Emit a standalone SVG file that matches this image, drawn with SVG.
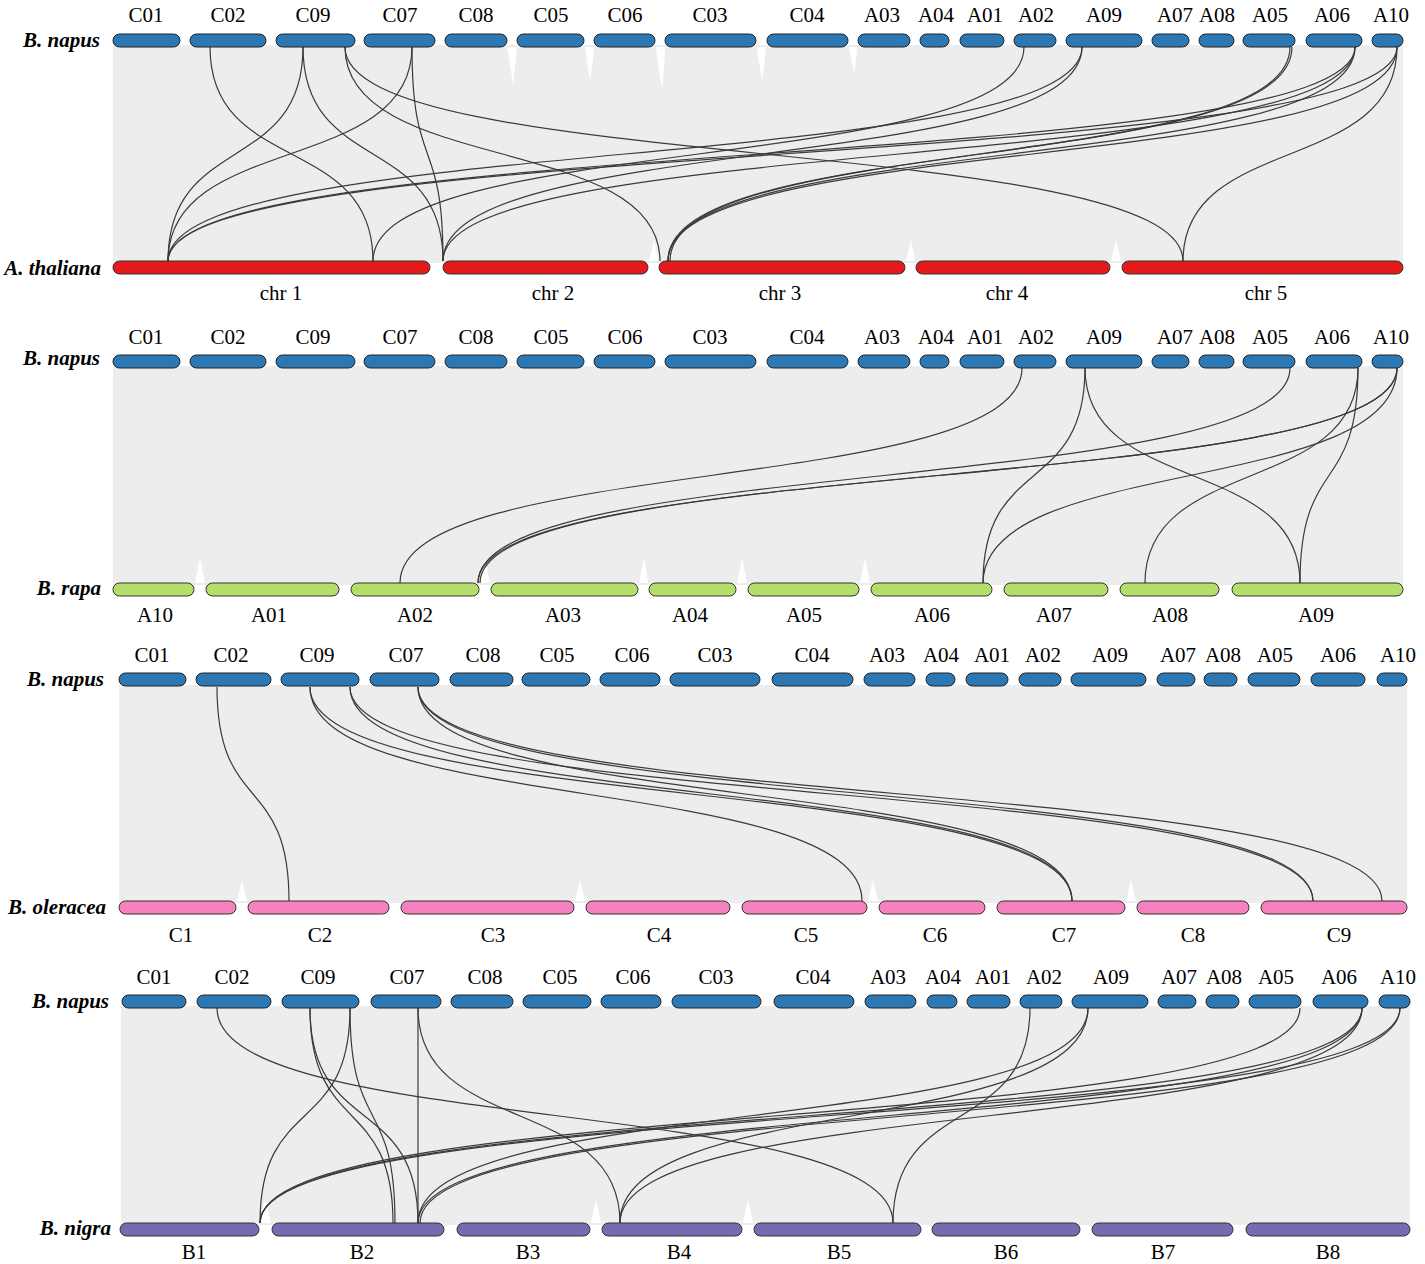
<svg xmlns="http://www.w3.org/2000/svg" width="1425" height="1264" viewBox="0 0 1425 1264">
<style>
.lab{font-family:"Liberation Serif","Times New Roman",serif;font-size:21px;text-anchor:middle;fill:#000}
.sp{font-family:"Liberation Serif","Times New Roman",serif;font-size:21px;font-weight:bold;font-style:italic;text-anchor:end;fill:#000}
.nap{fill:#2c78b4;stroke:#222;stroke-width:1}
.ath{fill:#e31a1c;stroke:#333;stroke-width:1}
.rap{fill:#b3de69;stroke:#333;stroke-width:1}
.ole{fill:#f781bf;stroke:#333;stroke-width:1}
.nig{fill:#756bb1;stroke:#333;stroke-width:1}
.bg{fill:#ededed}
.notch{fill:#ffffff}
.lnk{fill:none;stroke:#3a3a3a;stroke-width:1.2}
</style>
<rect width="1425" height="1264" fill="#fff"/>
<g id="background">
<rect class="bg" x="113" y="45" width="1290" height="218"/>
<rect class="bg" x="113" y="366" width="1290" height="219"/>
<rect class="bg" x="119" y="685" width="1288" height="218"/>
<rect class="bg" x="121" y="1006" width="1289" height="219"/>
<g class="notch">
<path d="M507 47 Q511 70 513 85 Q515 70 517 47Z"/><path d="M585 47 Q588 70 590 80 Q592 70 594 47Z"/><path d="M656 47 Q659 75 662 88 Q664 75 665 47Z"/><path d="M757 47 Q760 70 762 80 Q764 70 766 47Z"/><path d="M849 47 Q852 65 854 72 Q856 65 857 47Z"/>
<path d="M649 261 Q652 248 654 240 Q656 248 658 261Z"/><path d="M906 261 Q909 248 911 240 Q913 248 915 261Z"/><path d="M1111 261 Q1114 248 1116 240 Q1118 248 1121 261Z"/>
<path d="M195 583 Q198 568 200 558 Q202 568 205 583Z"/><path d="M480 583 Q483 568 485 558 Q487 568 490 583Z"/><path d="M639 583 Q642 568 644 558 Q646 568 648 583Z"/><path d="M737 583 Q740 568 742 558 Q744 568 747 583Z"/><path d="M860 583 Q863 568 865 558 Q867 568 870 583Z"/>
<path d="M237 901 Q240 888 242 880 Q244 888 247 901Z"/><path d="M575 901 Q578 888 580 880 Q582 888 585 901Z"/><path d="M868 901 Q871 888 873 880 Q875 888 878 901Z"/><path d="M1126 901 Q1129 888 1131 880 Q1133 888 1136 901Z"/>
<path d="M260 1223 Q263 1208 265 1200 Q267 1208 271 1223Z"/><path d="M591 1223 Q594 1208 596 1200 Q598 1208 601 1223Z"/><path d="M743 1223 Q746 1208 748 1200 Q750 1208 753 1223Z"/>
</g>
</g>
<g id="connectors">
<g id="links-p1">
<path class="lnk" d="M210 47 C210 175 373 133 373 261"/>
<path class="lnk" d="M303 47 C303 175 168 133 168 261"/>
<path class="lnk" d="M303 47 C303 175 443 133 443 261"/>
<path class="lnk" d="M345 47 C345 175 660 133 660 261"/>
<path class="lnk" d="M345 47 C345 175 1183 133 1183 261"/>
<path class="lnk" d="M412 47 C412 175 168 133 168 261"/>
<path class="lnk" d="M412 47 C412 175 443 133 443 261"/>
<path class="lnk" d="M1024 47 C1024 175 373 133 373 261"/>
<path class="lnk" d="M1082 47 C1082 175 168 133 168 261"/>
<path class="lnk" d="M1082 47 C1082 175 443 133 443 261"/>
<path class="lnk" d="M1290 47 C1290 175 668 133 668 261"/>
<path class="lnk" d="M1292 47 C1292 175 670 133 670 261"/>
<path class="lnk" d="M1355 47 C1355 175 168 133 168 261"/>
<path class="lnk" d="M1355 47 C1355 175 443 133 443 261"/>
<path class="lnk" d="M1355 47 C1355 175 668 133 668 261"/>
<path class="lnk" d="M1397 47 C1397 175 168 133 168 261"/>
<path class="lnk" d="M1397 47 C1397 175 668 133 668 261"/>
<path class="lnk" d="M1397 47 C1397 175 1183 133 1183 261"/>
</g>
<g id="links-p2">
<path class="lnk" d="M1022 368 C1022 496 400 455 400 583"/>
<path class="lnk" d="M1290 368 C1290 496 478 455 478 583"/>
<path class="lnk" d="M1397 368 C1397 496 478 455 478 583"/>
<path class="lnk" d="M1397 368 C1397 496 480 455 480 583"/>
<path class="lnk" d="M1085 368 C1085 496 983 455 983 583"/>
<path class="lnk" d="M1085 368 C1085 496 1300 455 1300 583"/>
<path class="lnk" d="M1397 368 C1397 496 983 455 983 583"/>
<path class="lnk" d="M1358 368 C1358 496 1145 455 1145 583"/>
<path class="lnk" d="M1358 368 C1358 496 1300 455 1300 583"/>
</g>
<g id="links-p3">
<path class="lnk" d="M217 687 C217 815 289 773 289 901"/>
<path class="lnk" d="M310 687 C310 815 862 773 862 901"/>
<path class="lnk" d="M310 687 C310 815 1072 773 1072 901"/>
<path class="lnk" d="M350 687 C350 815 1072 773 1072 901"/>
<path class="lnk" d="M350 687 C350 815 1313 773 1313 901"/>
<path class="lnk" d="M418 687 C418 815 1072 773 1072 901"/>
<path class="lnk" d="M418 687 C418 815 1313 773 1313 901"/>
<path class="lnk" d="M418 687 C418 815 1382 773 1382 901"/>
</g>
<g id="links-p4">
<path class="lnk" d="M217 1008 C217 1137 893 1094 893 1223"/>
<path class="lnk" d="M310 1008 C310 1137 393 1094 393 1223"/>
<path class="lnk" d="M310 1008 C310 1137 418 1094 418 1223"/>
<path class="lnk" d="M350 1008 C350 1137 260 1094 260 1223"/>
<path class="lnk" d="M350 1008 C350 1137 395 1094 395 1223"/>
<path class="lnk" d="M418 1008 C418 1137 418 1094 418 1223"/>
<path class="lnk" d="M418 1008 C418 1137 620 1094 620 1223"/>
<path class="lnk" d="M1030 1008 C1030 1137 893 1094 893 1223"/>
<path class="lnk" d="M1088 1008 C1088 1137 418 1094 418 1223"/>
<path class="lnk" d="M1088 1008 C1088 1137 620 1094 620 1223"/>
<path class="lnk" d="M1300 1008 C1300 1137 260 1094 260 1223"/>
<path class="lnk" d="M1362 1008 C1362 1137 260 1094 260 1223"/>
<path class="lnk" d="M1362 1008 C1362 1137 620 1094 620 1223"/>
<path class="lnk" d="M1362 1008 C1362 1137 418 1094 418 1223"/>
<path class="lnk" d="M1400 1008 C1400 1137 260 1094 260 1223"/>
<path class="lnk" d="M1400 1008 C1400 1137 420 1094 420 1223"/>
</g>
</g>
<g id="species-labels">
<text class="sp" x="100" y="47">B. napus</text>
<text class="sp" x="101" y="275">A. thaliana</text>
<text class="sp" x="100" y="365">B. napus</text>
<text class="sp" x="101" y="595">B. rapa</text>
<text class="sp" x="104" y="686">B. napus</text>
<text class="sp" x="106" y="914">B. oleracea</text>
<text class="sp" x="109" y="1008">B. napus</text>
<text class="sp" x="111" y="1235">B. nigra</text>
</g>
<g id="napus-1">
<rect class="nap" x="113" y="34" width="67" height="13" rx="6.5"/><text class="lab" x="146" y="22">C01</text>
<rect class="nap" x="190" y="34" width="76" height="13" rx="6.5"/><text class="lab" x="228" y="22">C02</text>
<rect class="nap" x="276" y="34" width="79" height="13" rx="6.5"/><text class="lab" x="313" y="22">C09</text>
<rect class="nap" x="364" y="34" width="71" height="13" rx="6.5"/><text class="lab" x="400" y="22">C07</text>
<rect class="nap" x="445" y="34" width="62" height="13" rx="6.5"/><text class="lab" x="476" y="22">C08</text>
<rect class="nap" x="517" y="34" width="67" height="13" rx="6.5"/><text class="lab" x="551" y="22">C05</text>
<rect class="nap" x="594" y="34" width="61" height="13" rx="6.5"/><text class="lab" x="625" y="22">C06</text>
<rect class="nap" x="665" y="34" width="91" height="13" rx="6.5"/><text class="lab" x="710" y="22">C03</text>
<rect class="nap" x="767" y="34" width="81" height="13" rx="6.5"/><text class="lab" x="807" y="22">C04</text>
<rect class="nap" x="858" y="34" width="52" height="13" rx="6.5"/><text class="lab" x="882" y="22">A03</text>
<rect class="nap" x="920" y="34" width="29" height="13" rx="6.5"/><text class="lab" x="936" y="22">A04</text>
<rect class="nap" x="960" y="34" width="44" height="13" rx="6.5"/><text class="lab" x="985" y="22">A01</text>
<rect class="nap" x="1014" y="34" width="42" height="13" rx="6.5"/><text class="lab" x="1036" y="22">A02</text>
<rect class="nap" x="1066" y="34" width="76" height="13" rx="6.5"/><text class="lab" x="1104" y="22">A09</text>
<rect class="nap" x="1152" y="34" width="37" height="13" rx="6.5"/><text class="lab" x="1175" y="22">A07</text>
<rect class="nap" x="1199" y="34" width="35" height="13" rx="6.5"/><text class="lab" x="1217" y="22">A08</text>
<rect class="nap" x="1243" y="34" width="52" height="13" rx="6.5"/><text class="lab" x="1270" y="22">A05</text>
<rect class="nap" x="1306" y="34" width="56" height="13" rx="6.5"/><text class="lab" x="1332" y="22">A06</text>
<rect class="nap" x="1372" y="34" width="31" height="13" rx="6.5"/><text class="lab" x="1391" y="22">A10</text>
</g>
<g id="athaliana">
<rect class="ath" x="113" y="261" width="317" height="13" rx="6.5"/><text class="lab" x="281" y="300">chr 1</text>
<rect class="ath" x="443" y="261" width="205" height="13" rx="6.5"/><text class="lab" x="553" y="300">chr 2</text>
<rect class="ath" x="659" y="261" width="246" height="13" rx="6.5"/><text class="lab" x="780" y="300">chr 3</text>
<rect class="ath" x="916" y="261" width="194" height="13" rx="6.5"/><text class="lab" x="1007" y="300">chr 4</text>
<rect class="ath" x="1122" y="261" width="281" height="13" rx="6.5"/><text class="lab" x="1266" y="300">chr 5</text>
</g>
<g id="napus-2">
<rect class="nap" x="113" y="355" width="67" height="13" rx="6.5"/><text class="lab" x="146" y="344">C01</text>
<rect class="nap" x="190" y="355" width="76" height="13" rx="6.5"/><text class="lab" x="228" y="344">C02</text>
<rect class="nap" x="276" y="355" width="79" height="13" rx="6.5"/><text class="lab" x="313" y="344">C09</text>
<rect class="nap" x="364" y="355" width="71" height="13" rx="6.5"/><text class="lab" x="400" y="344">C07</text>
<rect class="nap" x="445" y="355" width="62" height="13" rx="6.5"/><text class="lab" x="476" y="344">C08</text>
<rect class="nap" x="517" y="355" width="67" height="13" rx="6.5"/><text class="lab" x="551" y="344">C05</text>
<rect class="nap" x="594" y="355" width="61" height="13" rx="6.5"/><text class="lab" x="625" y="344">C06</text>
<rect class="nap" x="665" y="355" width="91" height="13" rx="6.5"/><text class="lab" x="710" y="344">C03</text>
<rect class="nap" x="767" y="355" width="81" height="13" rx="6.5"/><text class="lab" x="807" y="344">C04</text>
<rect class="nap" x="858" y="355" width="52" height="13" rx="6.5"/><text class="lab" x="882" y="344">A03</text>
<rect class="nap" x="920" y="355" width="29" height="13" rx="6.5"/><text class="lab" x="936" y="344">A04</text>
<rect class="nap" x="960" y="355" width="44" height="13" rx="6.5"/><text class="lab" x="985" y="344">A01</text>
<rect class="nap" x="1014" y="355" width="42" height="13" rx="6.5"/><text class="lab" x="1036" y="344">A02</text>
<rect class="nap" x="1066" y="355" width="76" height="13" rx="6.5"/><text class="lab" x="1104" y="344">A09</text>
<rect class="nap" x="1152" y="355" width="37" height="13" rx="6.5"/><text class="lab" x="1175" y="344">A07</text>
<rect class="nap" x="1199" y="355" width="35" height="13" rx="6.5"/><text class="lab" x="1217" y="344">A08</text>
<rect class="nap" x="1243" y="355" width="52" height="13" rx="6.5"/><text class="lab" x="1270" y="344">A05</text>
<rect class="nap" x="1306" y="355" width="56" height="13" rx="6.5"/><text class="lab" x="1332" y="344">A06</text>
<rect class="nap" x="1372" y="355" width="31" height="13" rx="6.5"/><text class="lab" x="1391" y="344">A10</text>
</g>
<g id="brapa">
<rect class="rap" x="113" y="583" width="81" height="13" rx="6.5"/><text class="lab" x="155" y="622">A10</text>
<rect class="rap" x="206" y="583" width="133" height="13" rx="6.5"/><text class="lab" x="269" y="622">A01</text>
<rect class="rap" x="351" y="583" width="128" height="13" rx="6.5"/><text class="lab" x="415" y="622">A02</text>
<rect class="rap" x="491" y="583" width="147" height="13" rx="6.5"/><text class="lab" x="563" y="622">A03</text>
<rect class="rap" x="649" y="583" width="87" height="13" rx="6.5"/><text class="lab" x="690" y="622">A04</text>
<rect class="rap" x="748" y="583" width="111" height="13" rx="6.5"/><text class="lab" x="804" y="622">A05</text>
<rect class="rap" x="871" y="583" width="121" height="13" rx="6.5"/><text class="lab" x="932" y="622">A06</text>
<rect class="rap" x="1004" y="583" width="104" height="13" rx="6.5"/><text class="lab" x="1054" y="622">A07</text>
<rect class="rap" x="1120" y="583" width="99" height="13" rx="6.5"/><text class="lab" x="1170" y="622">A08</text>
<rect class="rap" x="1232" y="583" width="171" height="13" rx="6.5"/><text class="lab" x="1316" y="622">A09</text>
</g>
<g id="napus-3">
<rect class="nap" x="119" y="673" width="67" height="13" rx="6.5"/><text class="lab" x="152" y="662">C01</text>
<rect class="nap" x="196" y="673" width="75" height="13" rx="6.5"/><text class="lab" x="231" y="662">C02</text>
<rect class="nap" x="281" y="673" width="78" height="13" rx="6.5"/><text class="lab" x="317" y="662">C09</text>
<rect class="nap" x="370" y="673" width="69" height="13" rx="6.5"/><text class="lab" x="406" y="662">C07</text>
<rect class="nap" x="450" y="673" width="63" height="13" rx="6.5"/><text class="lab" x="483" y="662">C08</text>
<rect class="nap" x="522" y="673" width="68" height="13" rx="6.5"/><text class="lab" x="557" y="662">C05</text>
<rect class="nap" x="600" y="673" width="60" height="13" rx="6.5"/><text class="lab" x="632" y="662">C06</text>
<rect class="nap" x="670" y="673" width="90" height="13" rx="6.5"/><text class="lab" x="715" y="662">C03</text>
<rect class="nap" x="772" y="673" width="81" height="13" rx="6.5"/><text class="lab" x="812" y="662">C04</text>
<rect class="nap" x="864" y="673" width="51" height="13" rx="6.5"/><text class="lab" x="887" y="662">A03</text>
<rect class="nap" x="926" y="673" width="29" height="13" rx="6.5"/><text class="lab" x="941" y="662">A04</text>
<rect class="nap" x="966" y="673" width="42" height="13" rx="6.5"/><text class="lab" x="992" y="662">A01</text>
<rect class="nap" x="1019" y="673" width="42" height="13" rx="6.5"/><text class="lab" x="1043" y="662">A02</text>
<rect class="nap" x="1071" y="673" width="75" height="13" rx="6.5"/><text class="lab" x="1110" y="662">A09</text>
<rect class="nap" x="1157" y="673" width="38" height="13" rx="6.5"/><text class="lab" x="1178" y="662">A07</text>
<rect class="nap" x="1204" y="673" width="33" height="13" rx="6.5"/><text class="lab" x="1223" y="662">A08</text>
<rect class="nap" x="1248" y="673" width="52" height="13" rx="6.5"/><text class="lab" x="1275" y="662">A05</text>
<rect class="nap" x="1311" y="673" width="54" height="13" rx="6.5"/><text class="lab" x="1338" y="662">A06</text>
<rect class="nap" x="1377" y="673" width="30" height="13" rx="6.5"/><text class="lab" x="1398" y="662">A10</text>
</g>
<g id="boleracea">
<rect class="ole" x="119" y="901" width="117" height="13" rx="6.5"/><text class="lab" x="181" y="942">C1</text>
<rect class="ole" x="248" y="901" width="141" height="13" rx="6.5"/><text class="lab" x="320" y="942">C2</text>
<rect class="ole" x="401" y="901" width="173" height="13" rx="6.5"/><text class="lab" x="493" y="942">C3</text>
<rect class="ole" x="586" y="901" width="144" height="13" rx="6.5"/><text class="lab" x="659" y="942">C4</text>
<rect class="ole" x="742" y="901" width="125" height="13" rx="6.5"/><text class="lab" x="806" y="942">C5</text>
<rect class="ole" x="879" y="901" width="106" height="13" rx="6.5"/><text class="lab" x="935" y="942">C6</text>
<rect class="ole" x="997" y="901" width="128" height="13" rx="6.5"/><text class="lab" x="1064" y="942">C7</text>
<rect class="ole" x="1137" y="901" width="112" height="13" rx="6.5"/><text class="lab" x="1193" y="942">C8</text>
<rect class="ole" x="1261" y="901" width="146" height="13" rx="6.5"/><text class="lab" x="1339" y="942">C9</text>
</g>
<g id="napus-4">
<rect class="nap" x="122" y="995" width="64" height="13" rx="6.5"/><text class="lab" x="154" y="984">C01</text>
<rect class="nap" x="197" y="995" width="74" height="13" rx="6.5"/><text class="lab" x="232" y="984">C02</text>
<rect class="nap" x="282" y="995" width="77" height="13" rx="6.5"/><text class="lab" x="318" y="984">C09</text>
<rect class="nap" x="371" y="995" width="70" height="13" rx="6.5"/><text class="lab" x="407" y="984">C07</text>
<rect class="nap" x="451" y="995" width="62" height="13" rx="6.5"/><text class="lab" x="485" y="984">C08</text>
<rect class="nap" x="523" y="995" width="68" height="13" rx="6.5"/><text class="lab" x="560" y="984">C05</text>
<rect class="nap" x="601" y="995" width="60" height="13" rx="6.5"/><text class="lab" x="633" y="984">C06</text>
<rect class="nap" x="672" y="995" width="89" height="13" rx="6.5"/><text class="lab" x="716" y="984">C03</text>
<rect class="nap" x="774" y="995" width="80" height="13" rx="6.5"/><text class="lab" x="813" y="984">C04</text>
<rect class="nap" x="865" y="995" width="51" height="13" rx="6.5"/><text class="lab" x="888" y="984">A03</text>
<rect class="nap" x="927" y="995" width="30" height="13" rx="6.5"/><text class="lab" x="943" y="984">A04</text>
<rect class="nap" x="967" y="995" width="43" height="13" rx="6.5"/><text class="lab" x="993" y="984">A01</text>
<rect class="nap" x="1020" y="995" width="42" height="13" rx="6.5"/><text class="lab" x="1044" y="984">A02</text>
<rect class="nap" x="1072" y="995" width="76" height="13" rx="6.5"/><text class="lab" x="1111" y="984">A09</text>
<rect class="nap" x="1158" y="995" width="38" height="13" rx="6.5"/><text class="lab" x="1179" y="984">A07</text>
<rect class="nap" x="1206" y="995" width="33" height="13" rx="6.5"/><text class="lab" x="1224" y="984">A08</text>
<rect class="nap" x="1249" y="995" width="52" height="13" rx="6.5"/><text class="lab" x="1276" y="984">A05</text>
<rect class="nap" x="1313" y="995" width="55" height="13" rx="6.5"/><text class="lab" x="1339" y="984">A06</text>
<rect class="nap" x="1379" y="995" width="31" height="13" rx="6.5"/><text class="lab" x="1398" y="984">A10</text>
</g>
<g id="bnigra">
<rect class="nig" x="120" y="1223" width="139" height="13" rx="6.5"/><text class="lab" x="194" y="1259">B1</text>
<rect class="nig" x="272" y="1223" width="172" height="13" rx="6.5"/><text class="lab" x="362" y="1259">B2</text>
<rect class="nig" x="457" y="1223" width="133" height="13" rx="6.5"/><text class="lab" x="528" y="1259">B3</text>
<rect class="nig" x="602" y="1223" width="140" height="13" rx="6.5"/><text class="lab" x="679" y="1259">B4</text>
<rect class="nig" x="754" y="1223" width="167" height="13" rx="6.5"/><text class="lab" x="839" y="1259">B5</text>
<rect class="nig" x="932" y="1223" width="148" height="13" rx="6.5"/><text class="lab" x="1006" y="1259">B6</text>
<rect class="nig" x="1092" y="1223" width="141" height="13" rx="6.5"/><text class="lab" x="1163" y="1259">B7</text>
<rect class="nig" x="1246" y="1223" width="164" height="13" rx="6.5"/><text class="lab" x="1328" y="1259">B8</text>
</g>
</svg>
